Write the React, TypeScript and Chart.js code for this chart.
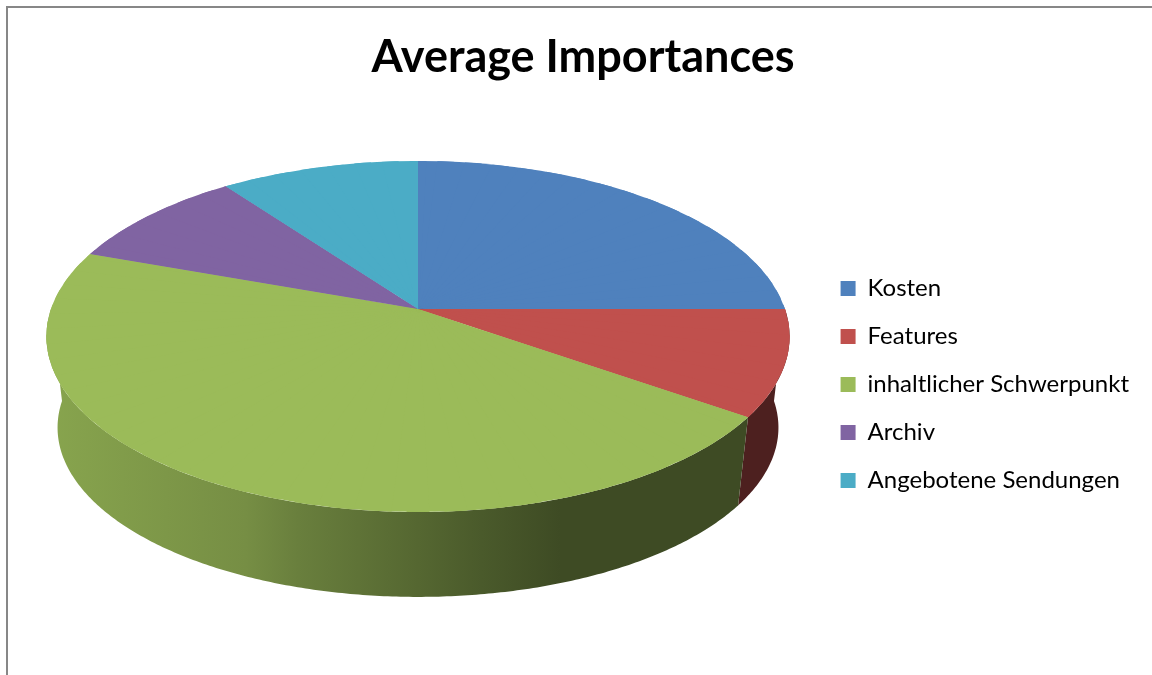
import React, { useEffect, useRef } from "react";
import { Chart, registerables } from "chart.js";

Chart.register(...registerables);

// ---- data ----
const chartTitle = "Average Importances";
const categories = ["Kosten", "Features", "inhaltlicher Schwerpunkt", "Archiv", "Angebotene Sendungen"];
const importances = [25.0, 9.75, 45.75, 9.45, 10.05];
const sliceColors = ["#4F81BD", "#C0504D", "#9BBB59", "#8064A2", "#4BACC6"];

// ---- 3D view geometry (styling, not data) ----
const VIEW = {
  cx: 418,
  cy: 309,
  sx: 367,
  sy: 171.2,
  persp: 0.1567,
  depth: 92,
  bottomScaleX: 0.97,
  bottomScaleY: 0.965,
};
// side-wall shading: [fraction across pie width, brightness factor]
const SHADE: [number, number][] = [
  [0, 0.88],
  [0.27, 0.76],
  [0.34, 0.68],
  [0.5, 0.55],
  [0.585, 0.48],
  [0.69, 0.4],
  [1, 0.4],
];

function projTop(a: number): [number, number] {
  const X = Math.cos(a);
  const Z = Math.sin(a);
  const w = 1 - VIEW.persp * Z;
  return [VIEW.cx + (VIEW.sx * X) / w, VIEW.cy + (VIEW.sy * Z) / w];
}
function projBottom(a: number): [number, number] {
  const X = Math.cos(a);
  const Z = Math.sin(a);
  const w = 1 - VIEW.persp * Z;
  return [
    VIEW.cx + (VIEW.sx * VIEW.bottomScaleX * X) / w,
    VIEW.cy + VIEW.depth + (VIEW.sy * VIEW.bottomScaleY * Z) / w,
  ];
}
function hexToRgb(hex: string): [number, number, number] {
  const h = hex.replace("#", "");
  return [parseInt(h.slice(0, 2), 16), parseInt(h.slice(2, 4), 16), parseInt(h.slice(4, 6), 16)];
}

const frameBorder = {
  id: "frameBorder",
  beforeDraw(chart: any) {
    const ctx = chart.ctx;
    ctx.save();
    ctx.fillStyle = "#ffffff";
    ctx.fillRect(0, 0, chart.width, chart.height);
    ctx.fillStyle = "#878787";
    ctx.fillRect(6, 6, chart.width - 6, 2);
    ctx.fillRect(6, 6, 2, chart.height - 6);
    ctx.restore();
  },
};

const pie3d = {
  id: "pie3d",
  beforeDatasetsDraw(chart: any) {
    const ctx: CanvasRenderingContext2D = chart.ctx;
    const meta = chart.getDatasetMeta(0);
    const arcs = meta.data;
    if (!arcs.length) return false;

    // side walls (front half only)
    const gx0 = VIEW.cx - VIEW.sx * 1.02;
    const gx1 = VIEW.cx + VIEW.sx * 1.02;
    arcs.forEach((arc: any) => {
      const s = Math.max(arc.startAngle, 0);
      const e = Math.min(arc.endAngle, Math.PI);
      if (e <= s) return;
      const [r, g, b] = hexToRgb(arc.options.backgroundColor);
      const grad = ctx.createLinearGradient(gx0, 0, gx1, 0);
      SHADE.forEach(([p, f]) =>
        grad.addColorStop(p, `rgb(${Math.round(r * f)},${Math.round(g * f)},${Math.round(b * f)})`)
      );
      const n = Math.max(2, Math.ceil((e - s) / 0.01));
      ctx.beginPath();
      for (let j = 0; j <= n; j++) {
        const [x, y] = projTop(s + ((e - s) * j) / n);
        if (j === 0) ctx.moveTo(x, y);
        else ctx.lineTo(x, y);
      }
      for (let j = n; j >= 0; j--) {
        const [x, y] = projBottom(s + ((e - s) * j) / n);
        ctx.lineTo(x, y);
      }
      ctx.closePath();
      ctx.fillStyle = grad;
      ctx.fill();
    });

    // top face: library arcs drawn through piecewise-affine perspective mapping
    const ref = arcs[0];
    const sx0 = ref.x;
    const sy0 = ref.y;
    const R = ref.outerRadius;
    const N = 72;
    const step = (2 * Math.PI) / N;
    const pad = step * 0.3;
    const cx = VIEW.cx;
    const cy = VIEW.cy;
    for (let i = 0; i < N; i++) {
      const a1 = -Math.PI / 2 + i * step;
      const a2 = a1 + step;
      const am = (a1 + a2) / 2;
      const u1x = R * Math.cos(a1), u1y = R * Math.sin(a1);
      const u2x = R * Math.cos(a2), u2y = R * Math.sin(a2);
      const [d1x, d1y] = projTop(a1);
      const [d2x, d2y] = projTop(a2);
      const v1x = d1x - cx, v1y = d1y - cy, v2x = d2x - cx, v2y = d2y - cy;
      const det = u1x * u2y - u2x * u1y;
      const m11 = (v1x * u2y - v2x * u1y) / det;
      const m12 = (v2x * u1x - v1x * u2x) / det;
      const m21 = (v1y * u2y - v2y * u1y) / det;
      const m22 = (v2y * u1x - v1y * u2x) / det;
      const te = cx - (m11 * sx0 + m12 * sy0);
      const tf = cy - (m21 * sx0 + m22 * sy0);

      ctx.save();
      ctx.beginPath();
      // start slightly behind the centre so neighbouring wedges overlap there
      ctx.moveTo(cx - 4 * Math.cos(am), cy - 4 * Math.sin(am));
      const pts = [a1 - pad, am, a2 + pad].map((a) => projTop(a));
      pts.forEach(([x, y]) => ctx.lineTo(cx + 1.2 * (x - cx), cy + 1.2 * (y - cy)));
      ctx.closePath();
      ctx.clip();
      ctx.transform(m11, m21, m12, m22, te, tf);
      meta.controller.draw();
      ctx.restore();
    }
    return false;
  },
};

export default function App() {
  const canvasRef = useRef<HTMLCanvasElement | null>(null);

  useEffect(() => {
    if (!canvasRef.current) return;
    const chart = new Chart(canvasRef.current, {
      type: "pie",
      data: {
        labels: categories,
        datasets: [
          {
            data: importances,
            backgroundColor: sliceColors,
            borderWidth: 0,
          },
        ],
      },
      options: {
        responsive: false,
        animation: false,
        events: [],
        layout: { padding: { left: 27, right: 13, top: 0, bottom: 0 } },
        plugins: {
          title: {
            display: true,
            text: chartTitle,
            color: "#000000",
            font: { family: "Lato", size: 45, weight: "bold" },
            padding: { top: 30, bottom: 10 },
          },
          legend: {
            display: true,
            position: "right",
            align: "center",
            fullSize: false,
            labels: {
              color: "#000000",
              font: { family: "Lato", size: 24 },
              boxWidth: 15,
              boxHeight: 15,
              padding: 24,
            },
          },
          tooltip: { enabled: false },
        },
      },
      plugins: [frameBorder, pie3d],
    });
    return () => chart.destroy();
  }, []);

  return (
    <div style={{ position: "fixed", left: 0, top: 0, width: 1152, height: 675 }}>
      <canvas ref={canvasRef} width={1152} height={675} />
    </div>
  );
}
